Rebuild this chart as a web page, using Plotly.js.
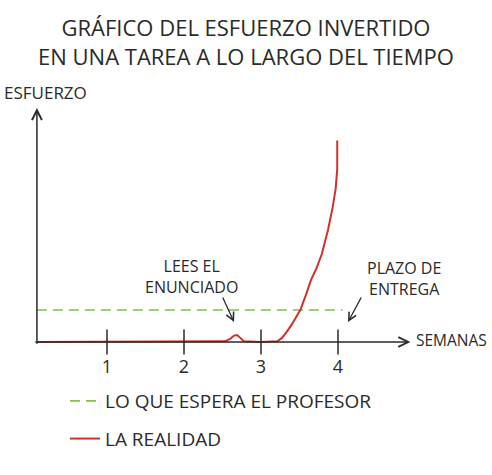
<!DOCTYPE html>
<html>
<head>
<meta charset="utf-8">
<script src="https://cdn.plot.ly/plotly-3.0.1.min.js"></script>
<style>html,body{margin:0;padding:0;background:#fff;}#chart{width:492px;height:475px;}</style>
</head>
<body>
<div id="chart"></div>
<script>
// Data
var realityWeeks  = [0.09, 1.0, 2.0, 2.53, 2.60, 2.65, 2.69, 2.73, 2.78, 3.0, 3.21, 3.27, 3.33, 3.40, 3.51, 3.58, 3.65, 3.72, 3.79, 3.87, 3.93, 3.97, 3.99, 3.99];
var realityEffort = [0, 0, 0, 0.02, 0.1, 0.2, 0.22, 0.12, 0.02, 0, 0.02, 0.12, 0.3, 0.55, 1.0, 1.45, 1.94, 2.3, 2.75, 3.5, 4.2, 4.8, 5.4, 6.3];
var expectedWeeks  = [0.09, 4.06];
var expectedEffort = [1, 1];
var tickWeeks  = [1, 2, 3, 4];
var tickLabels = ["1", "2", "3", "4"];

var titleText = "GRÁFICO DEL ESFUERZO INVERTIDO<br>EN UNA TAREA A LO LARGO DEL TIEMPO";
var seriesNames = ["LO QUE ESPERA EL PROFESOR", "LA REALIDAD"];

var FONT = "Open Sans, Liberation Sans, sans-serif";
var INK = "#2a2a2a";

var traces = [
  {x: expectedWeeks, y: expectedEffort, mode: "lines", name: seriesNames[0],
   line: {color: "#86c04f", width: 1.6, dash: "10px,6px"}, legendgroup: "a"},
  {x: realityWeeks, y: realityEffort, mode: "lines", name: seriesNames[1],
   line: {color: "#d1302b", width: 2}, legendgroup: "b"},
  {x: tickWeeks, y: tickWeeks.map(function(){return 0;}), mode: "markers", showlegend: false,
   hoverinfo: "skip",
   marker: {symbol: "line-ns-open", size: 18, color: INK, line: {color: INK, width: 1.5}}}
];

var layout = {
  width: 492, height: 475,
  margin: {l: 0, r: 0, t: 0, b: 0},
  paper_bgcolor: "#fff", plot_bgcolor: "#fff",
  font: {family: FONT, color: INK},
  title: {text: titleText, x: 0.5, xanchor: "center", y: 1 - 36/475, yref: "container", yanchor: "middle",
          font: {family: FONT, size: 22, color: INK}},
  xaxis: {range: [-30/77, 462/77], showgrid: false, zeroline: false, showline: false,
          tickvals: tickWeeks, ticktext: tickLabels, ticks: "", ticklabelstandoff: 12,
          anchor: "free", position: 133/475, tickfont: {size: 18, family: FONT, color: INK},
          fixedrange: true},
  yaxis: {range: [-133/32, 342/32], visible: false, fixedrange: true},
  showlegend: true,
  legend: {x: 65/492, y: 1 - 382/475, xanchor: "left", yanchor: "top", traceorder: "grouped",
           tracegroupgap: 10, font: {size: 19, family: FONT, color: INK}, bgcolor: "rgba(0,0,0,0)"},
  annotations: [
    // x axis arrow
    {x: 4.94, y: 0, xref: "x", yref: "y", axref: "x", ayref: "y", ax: 0.05, ay: 0, text: "",
     showarrow: true, arrowhead: 5, arrowsize: 1.3, arrowwidth: 1.5, arrowcolor: INK},
    // y axis arrow
    {x: 0.09, y: 7.31, xref: "x", yref: "y", axref: "x", ayref: "y", ax: 0.09, ay: -0.1, text: "",
     showarrow: true, arrowhead: 5, arrowsize: 1.3, arrowwidth: 1.5, arrowcolor: INK},
    {x: 2/492, y: 1 - 92/475, xref: "paper", yref: "paper", xanchor: "left", yanchor: "middle",
     text: "ESFUERZO", showarrow: false, font: {size: 17}},
    {x: 489/492, y: 0.06, xref: "paper", yref: "y", xanchor: "right", yanchor: "middle",
     text: "SEMANAS", showarrow: false, font: {size: 15.5}},
    {x: 2.10, y: 2.06, xref: "x", yref: "y", xanchor: "center", yanchor: "middle",
     text: "LEES EL<br>ENUNCIADO", showarrow: false, font: {size: 16}},
    {x: 2.65, y: 0.625, xref: "x", yref: "y", ax: -12, ay: -26, text: "",
     showarrow: true, arrowhead: 5, arrowsize: 1.2, arrowwidth: 1.3, arrowcolor: INK},
    {x: 4.86, y: 2.0, xref: "x", yref: "y", xanchor: "center", yanchor: "middle",
     text: "PLAZO DE<br>ENTREGA", showarrow: false, font: {size: 16}},
    {x: 4.13, y: 0.625, xref: "x", yref: "y", ax: 14, ay: -26, text: "",
     showarrow: true, arrowhead: 5, arrowsize: 1.2, arrowwidth: 1.3, arrowcolor: INK}
  ]
};

Plotly.newPlot("chart", traces, layout, {displayModeBar: false, staticPlot: true});
</script>
</body>
</html>
